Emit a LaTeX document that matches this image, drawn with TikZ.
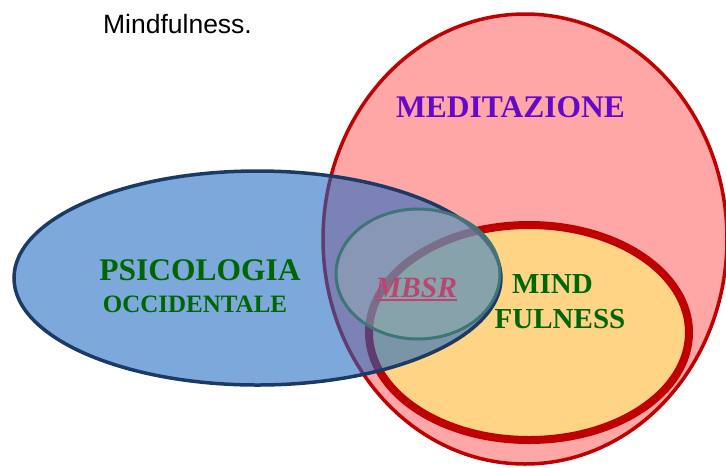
\documentclass[tikz,border=0pt]{standalone}
\usepackage{fontspec}
\setmainfont{Liberation Serif}
\newfontfamily\labelsans{Liberation Sans}
\usetikzlibrary{calc}
\definecolor{medfill}{HTML}{FFA6A6}
\definecolor{darkred}{HTML}{C00000}
\definecolor{mindfill}{HTML}{FFD485}
\definecolor{psyfill}{RGB}{29,105,195}
\definecolor{psyline}{HTML}{1B3A66}
\definecolor{mbsrfill}{RGB}{155,182,176}
\definecolor{mbsrline}{HTML}{3E7575}
\definecolor{medtext}{HTML}{6608CC}
\definecolor{greentext}{HTML}{006600}
\definecolor{mbsrtext}{HTML}{B8476F}
\tikzset{
  setlabel/.style={font=\bfseries, inner sep=0pt, anchor=base},
}
\begin{document}
\begin{tikzpicture}[x=1pt,y=-1pt]
  \useasboundingbox (0,0) rectangle (726,467);
  % meditation set
  \draw[line width=3.5pt, draw=darkred, fill=medfill] (525,239) ellipse [x radius=202, y radius=225];
  % mindfulness set
  \draw[line width=8pt, draw=darkred, fill=mindfill] (529,332.5) ellipse [x radius=160, y radius=107.5];
  % western psychology set
  \fill[psyfill, fill opacity=0.58] (257.5,278) ellipse [x radius=243.5, y radius=107];
  \draw[line width=3.5pt, draw=psyline] (257.5,278) ellipse [x radius=243.5, y radius=107];
  % MBSR intersection
  \fill[mbsrfill, fill opacity=0.42] (418,274) ellipse [x radius=82, y radius=65];
  \draw[line width=3pt, draw=mbsrline] (418,274) ellipse [x radius=82, y radius=65];
  % labels
  \node[inner sep=0pt, anchor=base, font=\labelsans\fontsize{26.5}{30}\selectfont] (title) at (177.5,33) {Mindfulness.};
  \node[setlabel, text=medtext, font=\bfseries\fontsize{31.5}{36}\selectfont] (med) at (510.5,117) {MEDITAZIONE};
  \node[setlabel, text=greentext, font=\bfseries\fontsize{31.5}{36}\selectfont] (psy1) at (200,280) {PSICOLOGIA};
  \node[setlabel, text=greentext, font=\bfseries\fontsize{25}{30}\selectfont] (psy2) at (195,312) {OCCIDENTALE};
  \node[setlabel, text=greentext, font=\bfseries\fontsize{29}{34}\selectfont] (mind1) at (552.5,293) {MIND};
  \node[setlabel, text=greentext, font=\bfseries\fontsize{29}{34}\selectfont] (mind2) at (560,328) {FULNESS};
  \node[setlabel, text=mbsrtext, font=\bfseries\itshape\fontsize{29.5}{34}\selectfont] (mbsr) at (416,297) {MBSR};
  \draw[mbsrtext, line width=2pt] ($(mbsr.base west)+(0,2.5)$) -- ($(mbsr.base east)+(0,2.5)$);
\end{tikzpicture}
\end{document}
